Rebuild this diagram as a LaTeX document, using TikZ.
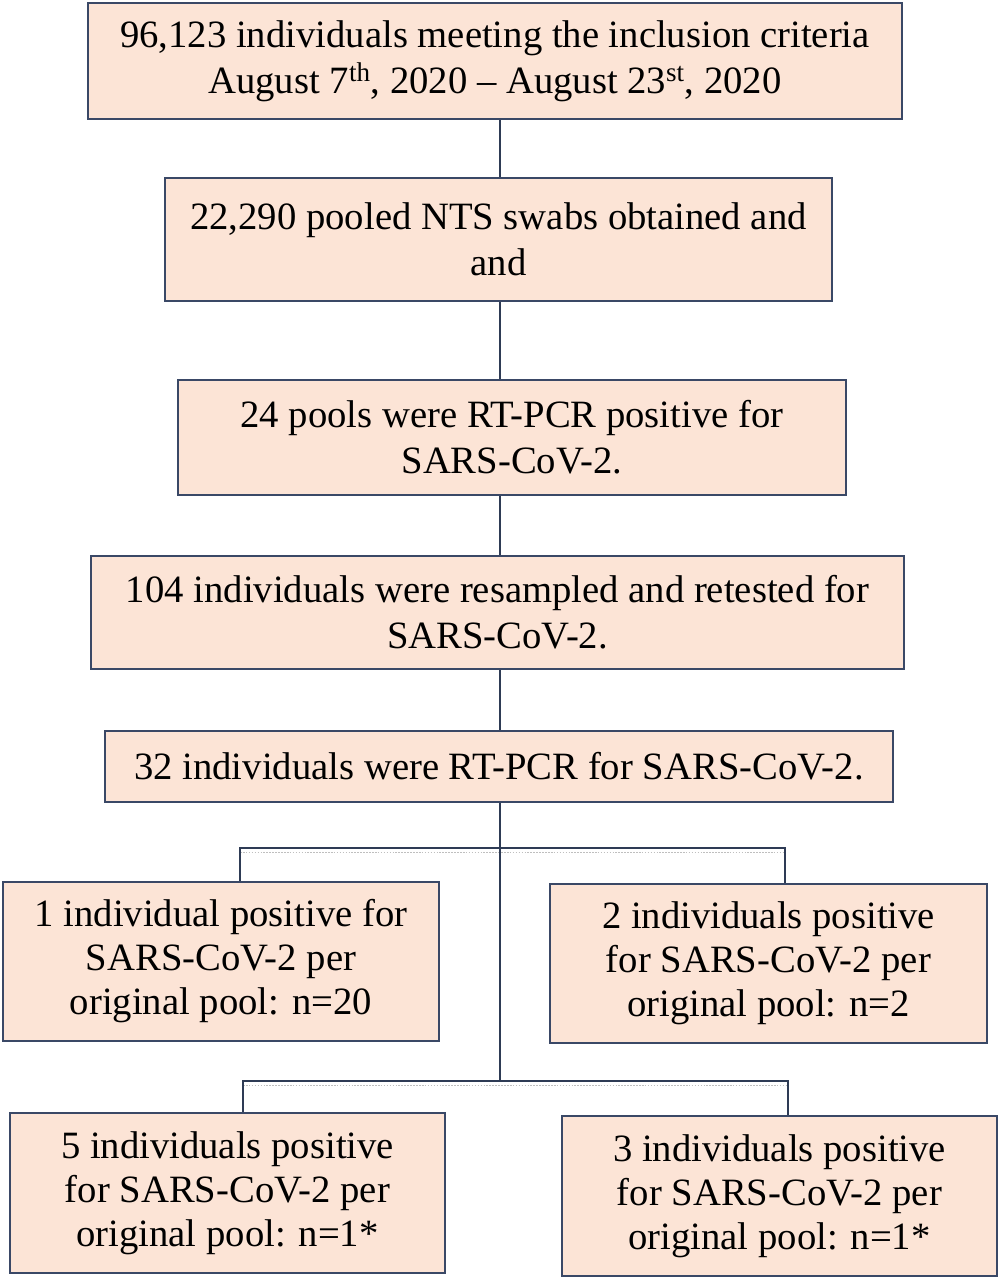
\documentclass[tikz,border=0pt]{standalone}
\usepackage{fontspec}
\setmainfont{Liberation Serif}
\definecolor{boxfill}{HTML}{FCE4D6}
\definecolor{boxline}{HTML}{3A4866}
\definecolor{conn}{HTML}{2E3B55}
\begin{document}
\begin{tikzpicture}[x=0.75pt,y=-0.75pt,
  fbox/.style={draw=boxline, line width=2.2pt, fill=boxfill, align=center, inner sep=0pt,
    font=\fontsize{29}{34.5}\selectfont},
  conline/.style={draw=conn, line width=1.5pt},
  grayline/.style={draw=gray!50, line width=1.2pt, densely dotted}]
\useasboundingbox[fill=white] (0,0) rectangle (1002,1280);
\node[fbox, minimum width=610.5pt, minimum height=87pt] (b1) at (495,61)
  {96,123 individuals meeting the inclusion criteria\\August 7\textsuperscript{th}, 2020 – August 23\textsuperscript{st}, 2020};
\node[fbox, minimum width=500.25pt, minimum height=92.25pt] (b2) at (498.5,239.5)
  {22,290 pooled NTS swabs obtained and\\and};
\node[fbox, minimum width=501pt, minimum height=86.25pt] (b3) at (512,437.5)
  {24 pools were RT-PCR positive for\\SARS-CoV-2.};
\node[fbox, minimum width=609.75pt, minimum height=84.75pt] (b4) at (497.5,612.5)
  {104 individuals were resampled and retested for\\SARS-CoV-2.};
\node[fbox, minimum width=591pt, minimum height=53.25pt] (b5) at (499,766.5)
  {32 individuals were RT-PCR for SARS-CoV-2.};
\node[fbox, minimum width=327pt, minimum height=119.25pt, font=\fontsize{29}{33}\selectfont] (b6) at (221,961.5)
  {1 individual positive for\\SARS-CoV-2 per\\original pool: n=20};
\node[fbox, minimum width=327.75pt, minimum height=119.25pt, font=\fontsize{29}{33}\selectfont] (b7) at (768.5,963.5)
  {2 individuals positive\\for SARS-CoV-2 per\\original pool: n=2};
\node[fbox, minimum width=326.25pt, minimum height=120pt, font=\fontsize{29}{33}\selectfont] (b8) at (227.5,1193)
  {5 individuals positive\\for SARS-CoV-2 per\\original pool: n=1*};
\node[fbox, minimum width=326.25pt, minimum height=120pt, font=\fontsize{29}{33}\selectfont] (b9) at (779.5,1196)
  {3 individuals positive\\for SARS-CoV-2 per\\original pool: n=1*};
% spine
\coordinate (v) at (500,0);
\coordinate (j1) at (500,848);
\coordinate (j2) at (500,1081);
\coordinate (h1l) at (240,848);
\coordinate (h1r) at (785,848);
\coordinate (h2l) at (243,1081);
\coordinate (h2r) at (788,1081);
\draw[grayline] (240,852.5) -- (785,852.5);
\draw[grayline] (243,1085.5) -- (788,1085.5);
\draw[conline] (b1.south -| v) -- (b2.north -| v);
\draw[conline] (b2.south -| v) -- (b3.north -| v);
\draw[conline] (b3.south -| v) -- (b4.north -| v);
\draw[conline] (b4.south -| v) -- (b5.north -| v);
\draw[conline] (b5.south -| v) -- (j2);
\draw[conline] (b6.north -| h1l) -- (h1l) -- (h1r) -- (b7.north -| h1r);
\draw[conline] (b8.north -| h2l) -- (h2l) -- (h2r) -- (b9.north -| h2r);
\end{tikzpicture}
\end{document}
